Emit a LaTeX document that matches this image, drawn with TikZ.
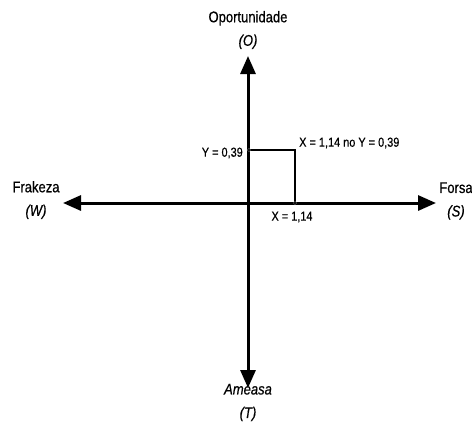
\documentclass[tikz,border=0pt]{standalone}
\usepackage{fontspec}
\setmainfont{Liberation Sans}[FakeStretch=0.84,FakeBold=0.5]
\usetikzlibrary{arrows.meta}

\begin{document}
\begin{tikzpicture}[
            x=1bp, y=-1bp,
            axis/.style={
                line width=3bp,
                {Triangle[length=18bp,width=15bp]}-{Triangle[length=18bp,width=15bp]}
            },
            quad/.style={
                align=center,
                inner sep=0pt,
                font=\fontsize{15.5bp}{23.5bp}\selectfont
            },
            val/.style={
                inner sep=0pt,
                font=\fontsize{13bp}{15bp}\selectfont
            },
            guide/.style={
                line width=1.6bp
            },
            dot/.style={
                circle,
                draw=black!70,
                line width=0.6bp,
                inner sep=0pt,
                minimum size=3.5bp
            }
        ]
            \useasboundingbox (0,0) rectangle (472,427);
            % axis ends
            \coordinate (top) at (248,56);
            \coordinate (bottom) at (248,388);
            \coordinate (left) at (63,203);
            \coordinate (right) at (436,203);
            \draw[axis] (left) -- (right);
            \draw[axis] (bottom) -- (top);
            % quadrant labels
            \foreach \n/\name/\x/\y in {
                opor/{Oportunidade\\\textit{(O)}}/248/30,
                frak/{Frakeza\\\textit{(W)}}/36/200,
                fors/{Forsa\\\textit{(S)}}/456/201,
                amea/{\textit{Ameasa}\\\textit{(T)}}/248/402.5
            } {
                \node[quad] (\n) at (\x,\y) {\name};
            }
            % point X = 1,14 / Y = 0,39
            \coordinate (py) at (249,150);
            \coordinate (px) at (295,203);
            \draw[guide] (py) -| (px);
            \node[dot] at (py) {};
            \node[dot] at (px) {};
            \node[val, anchor=east] (ylab) at (243,153) {Y = 0,39};
            \node[val, anchor=west] (xylab) at (299,143) {X = 1,14 no Y = 0,39};
            \node[val] (xlab) at (292,217) {X = 1,14};
        \end{tikzpicture}
\end{document}
